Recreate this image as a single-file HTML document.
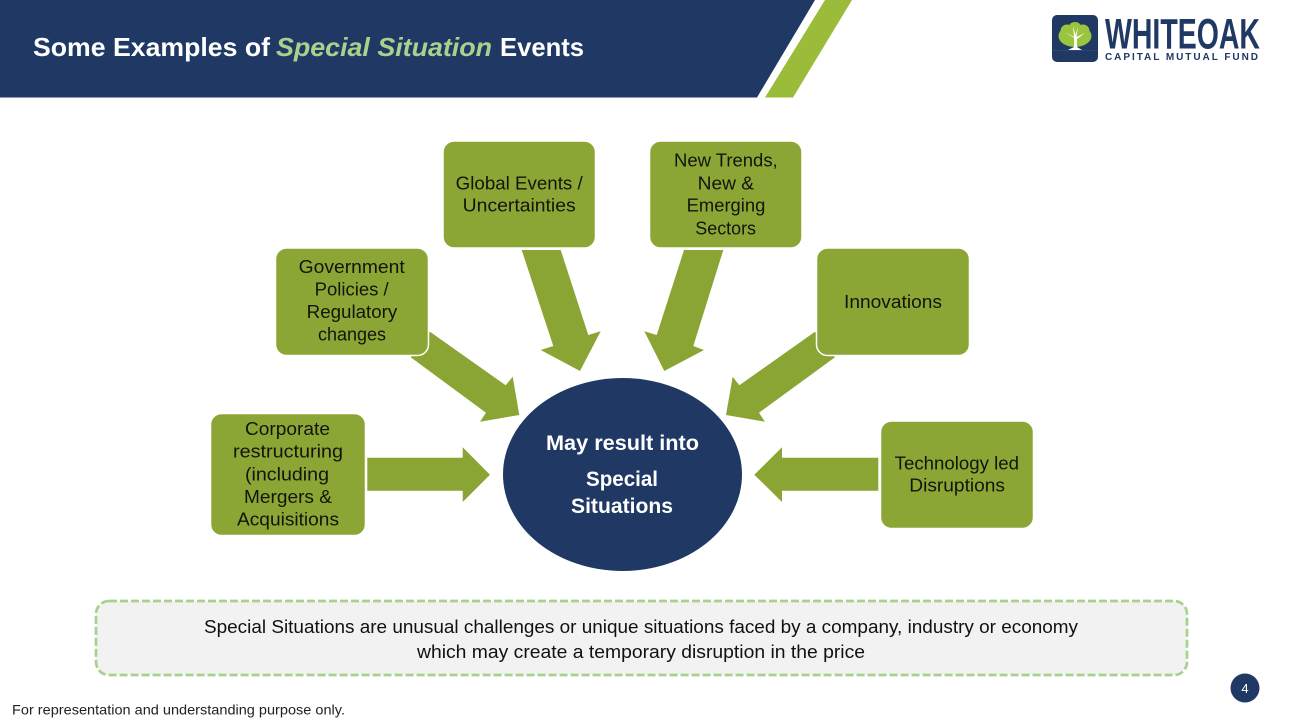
<!DOCTYPE html>
<html lang="en">
<head>
<meta charset="utf-8">
<title>Some Examples of Special Situation Events</title>
<style>
html,body{margin:0;padding:0;background:#fff;width:1292px;height:724px;overflow:hidden}
svg{display:block}
text{font-family:"Liberation Sans",sans-serif}
.b{font-size:18px;fill:#14140c}
.e{font-size:21px;font-weight:bold;fill:#fff}
.t{font-size:26px;font-weight:bold;fill:#fff}
.d{font-size:18px;fill:#111}
</style>
</head>
<body>
<svg width="1292" height="724" viewBox="0 0 1292 724" xmlns="http://www.w3.org/2000/svg">
<rect width="1292" height="724" fill="#fff"/>
<!-- header -->
<polygon points="0,0 815,0 757,97.500 0,97.500" fill="#1F3864"/>
<polygon points="825,0 852,0 793,97.500 765,97.500" fill="#9BBB3B"/>
<text class="t" x="33" y="56" textLength="237" lengthAdjust="spacingAndGlyphs">Some Examples of</text>
<text class="t" x="276" y="56" textLength="216" lengthAdjust="spacingAndGlyphs" font-style="italic" style="fill:#A9D18E">Special Situation</text>
<text class="t" x="500" y="56" textLength="84" lengthAdjust="spacingAndGlyphs">Events</text>
<!-- logo -->
<rect x="1052" y="15" width="46" height="47" rx="5" fill="#1F3864"/>
<g fill="#9BC43F">
<ellipse cx="1075" cy="36" rx="16.500" ry="11"/>
<circle cx="1067" cy="31" r="6.500"/><circle cx="1083" cy="31" r="6.500"/><circle cx="1075" cy="29" r="7"/>
</g>
<path d="M1074 38 L1074 47 L1068 50 L1082 50 L1077 47 L1077 39 L1085 33 L1076.500 37 L1078 27 L1075.500 35 L1073 26 L1074 37 L1065 32 Z" fill="#fff"/>
<line x1="1052" y1="50.500" x2="1098" y2="50.500" stroke="#3a5688" stroke-width="0.600"/>
<text x="1105" y="48.500" font-size="43" font-weight="bold" fill="#1F3864" textLength="155" lengthAdjust="spacingAndGlyphs">WHITEOAK</text>
<text x="1105" y="60" font-size="10" font-weight="bold" fill="#1F3864" textLength="153" lengthAdjust="spacing">CAPITAL MUTUAL FUND</text>
<!-- arrows -->
<g fill="#8BA534">
<polygon points="367.300,457.700 462.700,457.700 462.700,447.300 490,474.700 462.700,502 462.700,490.700 367.300,490.700"/>
<polygon points="878.300,457.700 782,457.700 782,447.300 754.300,474.700 782,502 782,490.700 878.300,490.700"/>
<polygon points="430,331.700 505.700,385.300 512.700,376.700 519.300,415 480,421.700 486,412.700 410.700,357.300"/>
<polygon points="815,331.700 739.300,385.300 732.700,376.700 726,415 765,421.700 759,412.700 835,357.300"/>
<polygon points="521.700,250 560.700,250 588.300,335 600.700,331.300 580,371 540.700,350 553.300,346"/>
<polygon points="684,250 723.300,250 693.300,346 704,350 664.300,371 644.300,331.300 656.700,335"/>
</g>
<!-- boxes -->
<g fill="#8CA635" stroke="#fff" stroke-width="1.500">
<rect x="443" y="141" width="152.500" height="107" rx="11"/>
<rect x="649.500" y="141" width="152.500" height="107" rx="11"/>
<rect x="275.500" y="248" width="153" height="107.500" rx="11"/>
<rect x="816.500" y="248" width="153" height="107.500" rx="11"/>
<rect x="210.500" y="413.500" width="155" height="122" rx="11"/>
<rect x="880.500" y="421" width="153" height="107.500" rx="11"/>
</g>
<!-- box text -->
<text class="b" x="455.700" y="189.300" textLength="127" lengthAdjust="spacingAndGlyphs">Global Events /</text>
<text class="b" x="462.700" y="211.700" textLength="113" lengthAdjust="spacingAndGlyphs">Uncertainties</text>
<text class="b" x="674" y="166.700" textLength="103.700" lengthAdjust="spacingAndGlyphs">New Trends,</text>
<text class="b" x="697.700" y="189.300" textLength="56.300" lengthAdjust="spacingAndGlyphs">New &amp;</text>
<text class="b" x="686.700" y="211.700" textLength="78.600" lengthAdjust="spacingAndGlyphs">Emerging</text>
<text class="b" x="695.300" y="234.300" textLength="60.700" lengthAdjust="spacingAndGlyphs">Sectors</text>
<text class="b" x="298.700" y="273" textLength="106" lengthAdjust="spacingAndGlyphs">Government</text>
<text class="b" x="314.700" y="295.700" textLength="74" lengthAdjust="spacingAndGlyphs">Policies /</text>
<text class="b" x="306.700" y="318" textLength="90.600" lengthAdjust="spacingAndGlyphs">Regulatory</text>
<text class="b" x="318" y="340.700" textLength="68" lengthAdjust="spacingAndGlyphs">changes</text>
<text class="b" x="844" y="308" textLength="98" lengthAdjust="spacingAndGlyphs">Innovations</text>
<text class="b" x="245" y="435" textLength="85" lengthAdjust="spacingAndGlyphs">Corporate</text>
<text class="b" x="233" y="457.500" textLength="110" lengthAdjust="spacingAndGlyphs">restructuring</text>
<text class="b" x="245" y="480.700" textLength="84" lengthAdjust="spacingAndGlyphs">(including</text>
<text class="b" x="244" y="503" textLength="88" lengthAdjust="spacingAndGlyphs">Mergers &amp;</text>
<text class="b" x="237" y="525.700" textLength="102" lengthAdjust="spacingAndGlyphs">Acquisitions</text>
<text class="b" x="894.700" y="469.300" textLength="124.300" lengthAdjust="spacingAndGlyphs">Technology led</text>
<text class="b" x="909.300" y="491.700" textLength="95.700" lengthAdjust="spacingAndGlyphs">Disruptions</text>
<!-- ellipse -->
<ellipse cx="622.500" cy="474.500" rx="119.500" ry="96.500" fill="#1F3864"/>
<text class="e" x="546" y="450" textLength="153" lengthAdjust="spacingAndGlyphs">May result into</text>
<text class="e" x="586" y="486" textLength="72" lengthAdjust="spacingAndGlyphs">Special</text>
<text class="e" x="571" y="513" textLength="102" lengthAdjust="spacingAndGlyphs">Situations</text>
<!-- note -->
<rect x="96" y="601" width="1091" height="74" rx="13" fill="#F2F2F2" stroke="#A9D18E" stroke-width="2.700" stroke-dasharray="8 3"/>
<text class="d" x="204" y="633" textLength="874" lengthAdjust="spacingAndGlyphs">Special Situations are unusual challenges or unique situations faced by a company, industry or economy</text>
<text class="d" x="417" y="658" textLength="448" lengthAdjust="spacingAndGlyphs">which may create a temporary disruption in the price</text>
<!-- footer -->
<text x="12" y="714.500" font-size="14" fill="#222" textLength="333" lengthAdjust="spacingAndGlyphs">For representation and understanding purpose only.</text>
<circle cx="1245" cy="688" r="14.500" fill="#1F3864"/>
<text x="1245" y="693" font-size="13" fill="#fff" text-anchor="middle">4</text>
</svg>
</body>
</html>
